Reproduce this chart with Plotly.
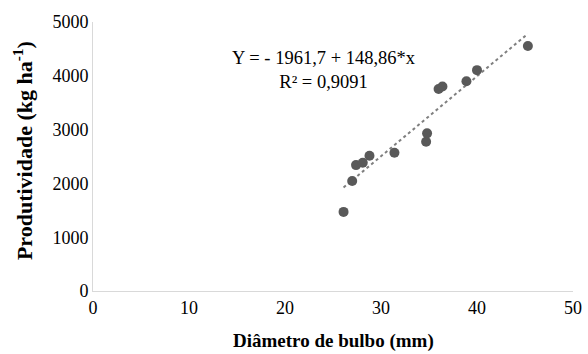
import numpy as np
import plotly.graph_objects as go

diametro = [26.1, 27.0, 27.4, 28.1, 28.8, 31.4, 34.7, 34.8, 36.0, 36.4, 38.9, 40.0, 45.3]
produtividade = [1470, 2045, 2340, 2385, 2515, 2570, 2775, 2930, 3755, 3800, 3900, 4105, 4555]
intercept = -1961.7
slope = 148.86
eq_text = "Y = - 1961,7 + 148,86*x<br>R² = 0,9091"
x_title = "<b>Diâmetro de bulbo (mm)</b>"
y_title = "<b>Produtividade (kg ha<sup>-1</sup>)</b>"
x_ticks = [0, 10, 20, 30, 40, 50]
y_ticks = [0, 1000, 2000, 3000, 4000, 5000]

font_family = "Liberation Serif, Times New Roman, serif"

xl = np.array([min(diametro), max(diametro)])
yl = intercept + slope * xl

fig = go.Figure()
fig.add_trace(go.Scatter(x=xl, y=yl, mode="lines",
                         line=dict(color="#7f7f7f", width=2, dash="dot"),
                         showlegend=False, hoverinfo="skip"))
fig.add_trace(go.Scatter(x=diametro, y=produtividade, mode="markers",
                         marker=dict(color="#595959", size=10),
                         showlegend=False))

fig.add_annotation(x=0.481, y=0.91, xref="paper", yref="paper",
                   text=eq_text, showarrow=False, align="center",
                   xanchor="center", yanchor="top",
                   font=dict(family=font_family, size=18.5, color="#000000"))

fig.add_annotation(x=0.5, y=-0.185, xref="paper", yref="paper",
                   text=x_title, showarrow=False,
                   xanchor="center", yanchor="middle",
                   font=dict(family=font_family, size=19, color="#000000"))

fig.add_annotation(x=(23 - 93) / 480, y=0.52, xref="paper", yref="paper",
                   text=y_title, showarrow=False, textangle=-90,
                   xanchor="center", yanchor="middle",
                   font=dict(family=font_family, size=22, color="#000000"))

fig.update_layout(
    width=588, height=354,
    margin=dict(l=93, r=15, t=22, b=63),
    paper_bgcolor="white", plot_bgcolor="white",
    font=dict(family=font_family, size=18, color="#000000"),
    xaxis=dict(range=[0, 50], tickvals=x_ticks, showgrid=False, zeroline=False,
               showline=True, linecolor="#d9d9d9", linewidth=1, ticks="",
               automargin=False, tickfont=dict(size=18)),
    yaxis=dict(range=[0, 5000], tickvals=y_ticks, showgrid=False, zeroline=False,
               showline=True, linecolor="#d9d9d9", linewidth=1, ticks="",
               automargin=False, tickfont=dict(size=18)),
)

fig.write_html("out.html", config={"displayModeBar": False},
               post_script="document.body.style.margin='0';")
